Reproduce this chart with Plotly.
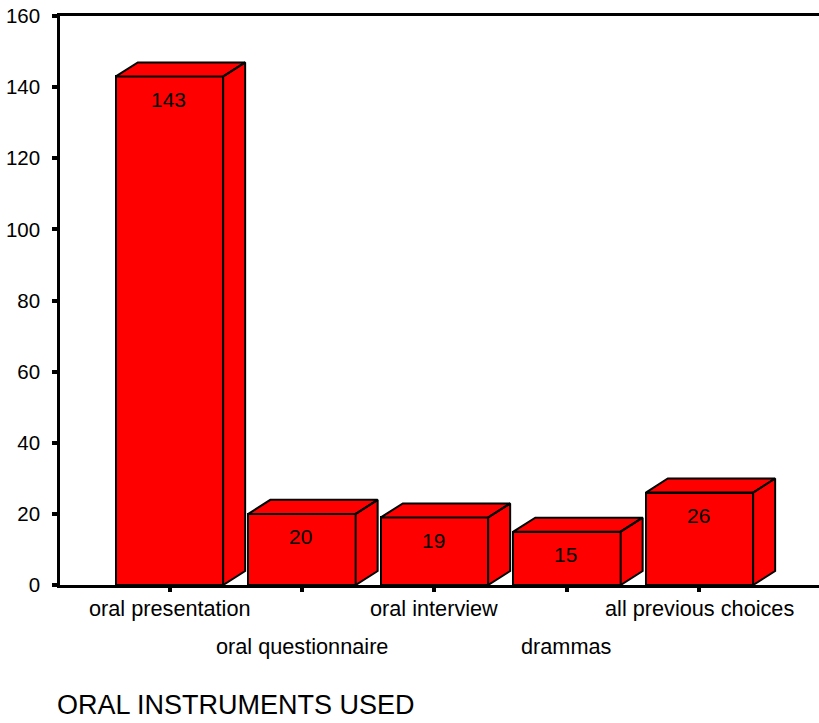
import plotly.graph_objects as go

# Survey counts of oral instruments used
categories = ["oral presentation", "oral questionnaire", "oral interview",
              "drammas", "all previous choices"]
counts = [143, 20, 19, 15, 26]
y_ticks = [0, 20, 40, 60, 80, 100, 120, 140, 160]

RED = "#FF0000"
EDGE = "black"
BAR_W = 0.81          # front-face width in category units
DX, DY = 0.166, 3.94  # pseudo-3D depth offset in axis units

xs = list(range(len(categories)))

fig = go.Figure()

# front faces
fig.add_trace(go.Bar(
    x=xs, y=counts, width=BAR_W,
    marker=dict(color=RED, line=dict(color=EDGE, width=2)),
    hoverinfo="skip", showlegend=False,
))

# top and right-hand faces, built from the same counts
px, py = [], []
for x, v in zip(xs, counts):
    l, r = x - BAR_W / 2, x + BAR_W / 2
    # top face
    px += [l, l + DX, r + DX, r, l, None]
    py += [v, v + DY, v + DY, v, v, None]
    # side face
    px += [r, r + DX, r + DX, r, r, None]
    py += [0, DY, v + DY, v, 0, None]
fig.add_trace(go.Scatter(
    x=px, y=py, mode="lines", fill="toself", fillcolor=RED,
    line=dict(color=EDGE, width=2), hoverinfo="skip", showlegend=False,
))

font = "Liberation Sans, Arial, sans-serif"
annotations = []
# value labels inside the top of each bar
for x, v in zip(xs, counts):
    annotations.append(dict(
        x=x, y=v, xref="x", yref="y", text=str(v), showarrow=False,
        yanchor="middle", yshift=-23, xshift=-1,
        font=dict(family=font, size=21, color="black"),
    ))
# staggered category labels
for i, (x, c) in enumerate(zip(xs, categories)):
    annotations.append(dict(
        x=x, y=0, xref="x", yref="paper", text=c, showarrow=False,
        yanchor="middle", yshift=-23 if i % 2 == 0 else -61,
        font=dict(family=font, size=21.7, color="black"),
    ))
# axis title
annotations.append(dict(
    x=0, y=0, xref="paper", yref="paper", text="ORAL INSTRUMENTS USED",
    showarrow=False, xanchor="left", yanchor="middle", xshift=-4, yshift=-120,
    borderpad=0,
    font=dict(family=font, size=27, color="black"),
))

fig.update_layout(
    width=819, height=723,
    margin=dict(l=60, r=0, t=16, b=138),
    paper_bgcolor="white", plot_bgcolor="white",
    font=dict(family=font, size=20, color="black"),
    annotations=annotations,
    bargap=0,
    xaxis=dict(
        range=[-0.8264, 4.902], tickvals=xs, showticklabels=False,
        ticks="outside", ticklen=4, tickwidth=4, tickcolor="black",
        showline=True, linecolor="black", linewidth=2.5, mirror=True,
        showgrid=False, zeroline=False, fixedrange=True,
    ),
    yaxis=dict(
        range=[0, 160], tickvals=y_ticks, ticktext=[str(t) for t in y_ticks],
        ticks="outside", ticklen=5, tickwidth=4, tickcolor="black",
        ticklabelstandoff=8,
        showline=True, linecolor="black", linewidth=2.5,
        showgrid=False, zeroline=False, fixedrange=True,
        tickfont=dict(family=font, size=20.5, color="black"),
    ),
)

fig.write_html("out.html")
